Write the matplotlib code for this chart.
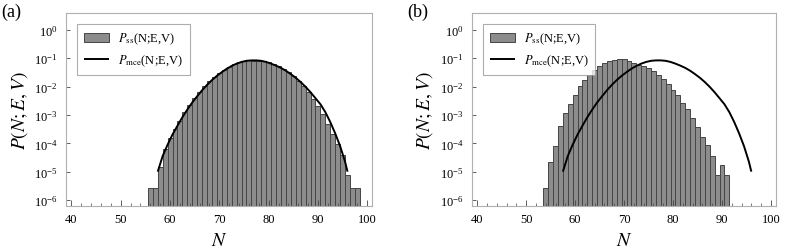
import matplotlib
matplotlib.use('Agg')
import matplotlib.pyplot as plt
import numpy as np
from matplotlib.ticker import MultipleLocator, FixedLocator, NullLocator

plt.rcParams['font.family'] = ['Liberation Serif', 'DejaVu Serif']
plt.rcParams['mathtext.fontset'] = 'stix'

# panel (a): simulated histogram, log10 of P_ss at each N
n_a = np.arange(56, 99)
logp_a = [-5.59, -5.59, -4.85, -4.20, -3.83, -3.50, -3.20, -2.91, -2.65, -2.41,
          -2.18, -1.99, -1.81, -1.67, -1.52, -1.40, -1.30, -1.21, -1.14, -1.10,
          -1.07, -1.08, -1.08, -1.09, -1.12, -1.20, -1.28, -1.38, -1.50, -1.64,
          -1.79, -1.97, -2.18, -2.44, -2.67, -2.97, -3.32, -3.67, -4.03, -4.42,
          -5.12, -5.59, -5.59]

# panel (b)
n_b = np.arange(54, 92)
logp_b = [-5.59, -4.65, -4.09, -3.40, -2.94, -2.61, -2.30, -1.97, -1.77, -1.58,
          -1.41, -1.26, -1.15, -1.10, -1.05, -1.03, -1.03, -1.08, -1.15, -1.22,
          -1.28, -1.35, -1.46, -1.59, -1.74, -1.91, -2.11, -2.30, -2.57, -2.80,
          -3.09, -3.42, -3.76, -4.05, -4.44, -5.11, -4.75, -5.11]

# microcanonical curve (same in both panels)
n_mce = [57.5, 58.5, 59.5, 60.5, 61.5, 62.5, 63.5, 64.5, 65.5, 66.5, 67.5, 68.5,
         69.5, 70.5, 71.5, 72.5, 73.5, 74.5, 75.5, 76.5, 77.5, 78.5, 79.5, 80.5,
         81.5, 82.5, 83.5, 84.5, 85.5, 86.5, 87.5, 88.5, 89.5, 90.5, 91.5, 92.5,
         93.5, 94.5, 95.5, 96.0]
logp_mce = [-5.00, -4.45, -4.05, -3.69, -3.38, -3.08, -2.81, -2.56, -2.34, -2.13,
            -1.94, -1.77, -1.62, -1.49, -1.37, -1.27, -1.19, -1.13, -1.09, -1.075,
            -1.075, -1.09, -1.13, -1.19, -1.26, -1.34, -1.44, -1.56, -1.69, -1.84,
            -2.01, -2.20, -2.41, -2.62, -2.90, -3.25, -3.65, -4.10, -4.65, -5.00]

y_ticks = [1e-6, 1e-5, 1e-4, 1e-3, 1e-2, 1e-1, 1e0]

panels = [('(a)', n_a, logp_a), ('(b)', n_b, logp_b)]
lefts = [0.0837, 0.598]
widths = [0.388, 0.3853]

fig = plt.figure(figsize=(7.89, 2.53), dpi=100)

for i, (tag, nn, lp) in enumerate(panels):
    ax = fig.add_axes([lefts[i], 0.182, widths[i], 0.763])
    vals = 10.0 ** np.array(lp)
    bars = ax.bar(nn, vals - 1e-8, bottom=1e-8, width=1.0, color='#8c8c8c',
                  edgecolor='#454545', linewidth=0.7)
    line, = ax.plot(n_mce, 10.0 ** np.array(logp_mce), color='black', lw=1.4,
                    solid_capstyle='butt')
    ax.set_yscale('log')
    ax.set_xlim(38.9, 101)
    ax.set_ylim(10 ** -6.21, 10 ** 0.6)
    ax.xaxis.set_major_locator(MultipleLocator(10))
    ax.xaxis.set_minor_locator(MultipleLocator(2))
    ax.yaxis.set_major_locator(FixedLocator(y_ticks))
    ax.yaxis.set_minor_locator(NullLocator())
    ax.tick_params(axis='both', which='both', direction='in', color='#444444',
                   labelsize=9, top=False, right=False)
    ax.tick_params(axis='x', which='major', length=4, width=0.6, pad=5)
    ax.tick_params(axis='x', which='minor', length=2, width=0.5)
    ax.tick_params(axis='y', which='major', length=3, width=0.6, pad=6)
    for sp in ax.spines.values():
        sp.set_color('#b0b0b0')
        sp.set_linewidth(0.8)
    ax.set_xlabel(r'$N$', fontsize=14, labelpad=5)
    ax.set_ylabel(r'$P(N;E,V)$', fontsize=14, labelpad=3)
    leg = ax.legend([bars, line], [r'$P_{\rm ss}$(N;E,V)', r'$P_{\rm mce}$(N;E,V)'],
                    loc='upper left', fontsize=9, frameon=True, fancybox=False,
                    borderpad=0.55, handlelength=2.0, handletextpad=0.7,
                    labelspacing=0.5, borderaxespad=0.9)
    leg.get_frame().set_edgecolor('#999999')
    leg.get_frame().set_linewidth(0.8)
    fig.text(lefts[i] - 0.082, 0.985, tag, fontsize=13, va='top', ha='left')

fig.savefig('out.png', dpi=100)
